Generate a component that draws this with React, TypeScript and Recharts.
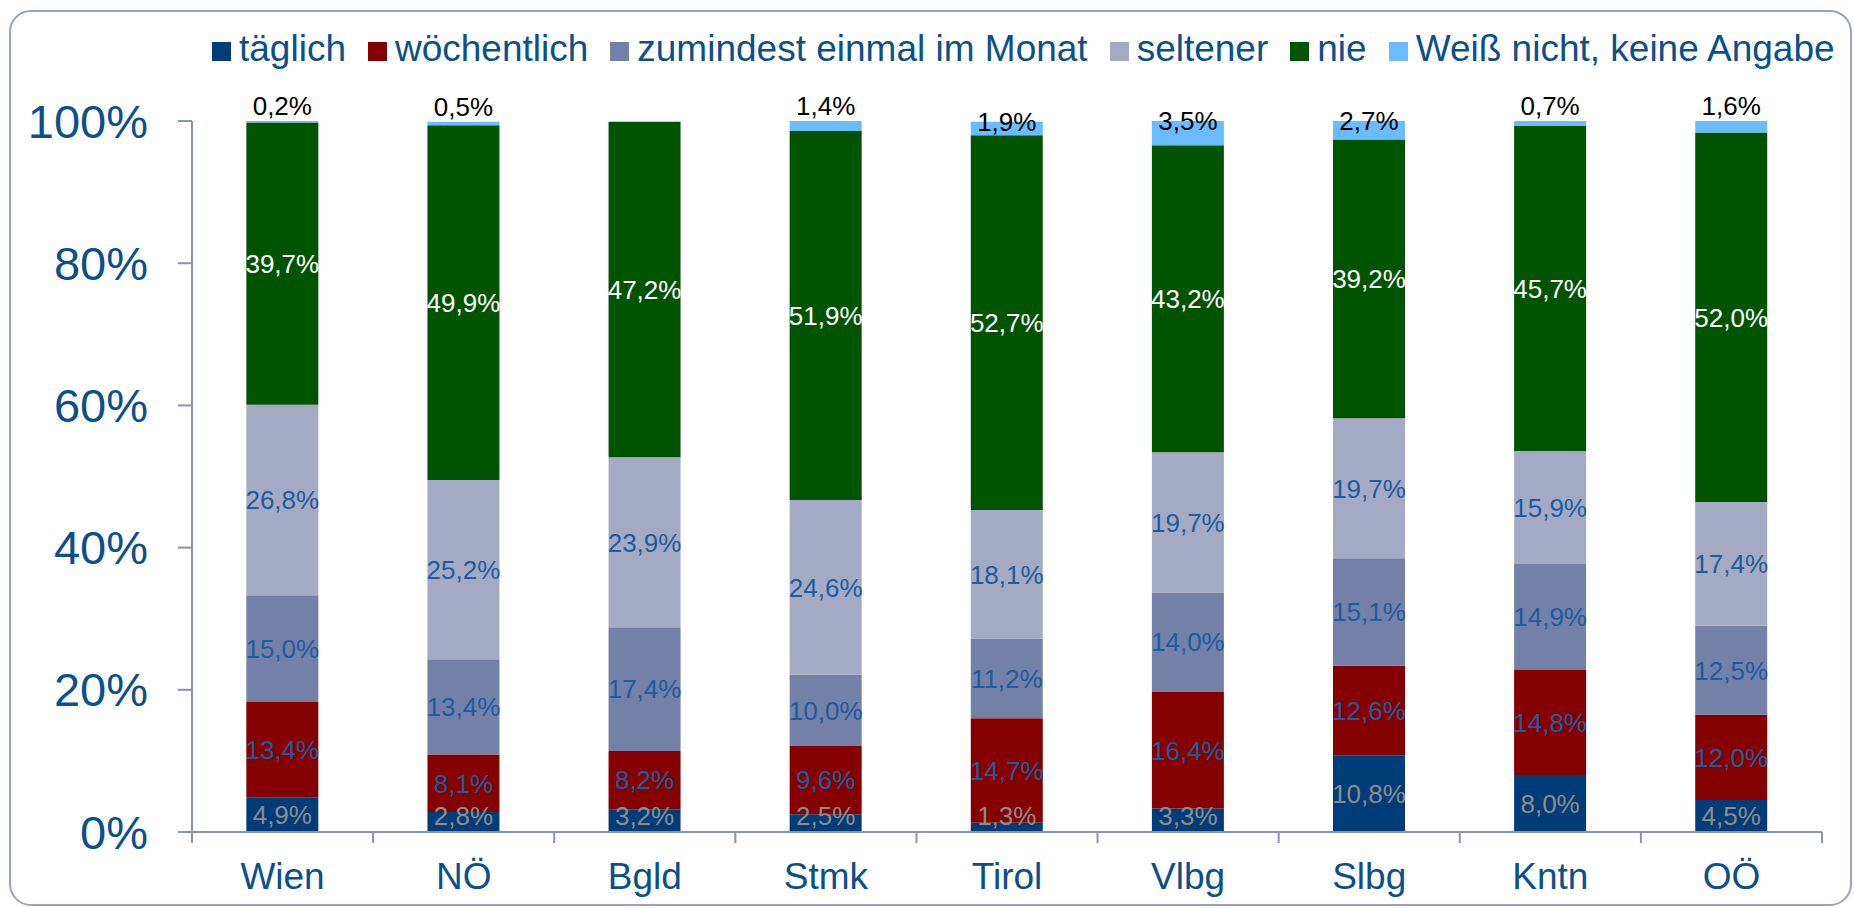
import React from 'react';
import { BarChart, Bar, XAxis, YAxis, Legend, LabelList } from 'recharts';

const categories = ['Wien', 'NÖ', 'Bgld', 'Stmk', 'Tirol', 'Vlbg', 'Slbg', 'Kntn', 'OÖ'];
const taeglich = [4.9, 2.8, 3.2, 2.5, 1.3, 3.3, 10.8, 8.0, 4.5];
const woechentlich = [13.4, 8.1, 8.2, 9.6, 14.7, 16.4, 12.6, 14.8, 12.0];
const monatlich = [15.0, 13.4, 17.4, 10.0, 11.2, 14.0, 15.1, 14.9, 12.5];
const seltener = [26.8, 25.2, 23.9, 24.6, 18.1, 19.7, 19.7, 15.9, 17.4];
const nie = [39.7, 49.9, 47.2, 51.9, 52.7, 43.2, 39.2, 45.7, 52.0];
const weissNicht = [0.2, 0.5, 0, 1.4, 1.9, 3.5, 2.7, 0.7, 1.6];
const yTicks = [0, 20, 40, 60, 80, 100];

const seriesKeys = ['t', 'w', 'm', 's', 'n', 'x'];
const seriesNames = [
  'täglich',
  'wöchentlich',
  'zumindest einmal im Monat',
  'seltener',
  'nie',
  'Weiß nicht, keine Angabe',
];
const seriesColors = ['#003C78', '#850000', '#7380A8', '#A4AAC4', '#005400', '#6BBCFF'];

const data = categories.map((name, i) => ({
  name,
  t: taeglich[i],
  w: woechentlich[i],
  m: monatlich[i],
  s: seltener[i],
  n: nie[i],
  x: weissNicht[i],
}));

const FONT = '"Liberation Sans", Arial, sans-serif';
const TEXT_BLUE = '#0B4F8B';
const AXIS = '#8A94B0';
const LABEL_SIZE = 26;

const fmt = (v: number) => v.toFixed(1).replace('.', ',') + '%';

const makeCenterLabel = (color: string) => (props: any) => {
  const { x, y, width, height, value } = props;
  if (!value) return null;
  const top = Math.min(y, y + height);
  const h = Math.abs(height);
  let cy = top + h / 2;
  cy = Math.min(cy, top + h - 16.5);
  return (
    <text
      x={x + width / 2}
      y={cy + 9.3}
      textAnchor="middle"
      fill={color}
      fontSize={LABEL_SIZE}
      fontFamily={FONT}
    >
      {fmt(Number(value))}
    </text>
  );
};

const topLabel = (props: any) => {
  const { x, y, width, height, value } = props;
  if (!value) return null;
  const top = Math.min(y, y + height);
  const baseline = Number(value) >= 1.8 ? top + 9 : top - 6;
  return (
    <text
      x={x + width / 2}
      y={baseline}
      textAnchor="middle"
      fill="#000000"
      fontSize={LABEL_SIZE}
      fontFamily={FONT}
    >
      {fmt(Number(value))}
    </text>
  );
};

const labelRenderers = [
  makeCenterLabel('#8C8C8C'),
  makeCenterLabel('#1D5C9E'),
  makeCenterLabel('#1D5C9E'),
  makeCenterLabel('#1D5C9E'),
  makeCenterLabel('#FFFFFF'),
  topLabel,
];

const XTick = (props: any) => {
  const { x, y, payload, index, visibleTicksCount } = props;
  const off = payload && payload.offset != null ? payload.offset : 90.5;
  const isLast = index === (visibleTicksCount ?? categories.length) - 1;
  return (
    <g>
      <line x1={x - off} x2={x - off} y1={y} y2={y + 11} stroke={AXIS} strokeWidth={2} />
      {isLast && <line x1={x + off} x2={x + off} y1={y} y2={y + 11} stroke={AXIS} strokeWidth={2} />}
      <text
        x={x}
        y={y + 31}
        dy="0.71em"
        textAnchor="middle"
        fill={TEXT_BLUE}
        fontSize={37}
        fontFamily={FONT}
      >
        {payload.value}
      </text>
    </g>
  );
};

const renderLegend = () => (
  <div
    style={{
      paddingLeft: 212,
      fontFamily: FONT,
      fontSize: 37,
      lineHeight: '44px',
      color: TEXT_BLUE,
      whiteSpace: 'nowrap',
      textAlign: 'left',
    }}
  >
    {seriesNames.map((n, i) => (
      <span key={n} style={{ marginRight: i < seriesNames.length - 1 ? 22 : 0 }}>
        <span
          style={{
            display: 'inline-block',
            width: 19,
            height: 19,
            background: seriesColors[i],
            marginRight: 8,
          }}
        />
        {n}
      </span>
    ))}
  </div>
);

export default function App() {
  return (
    <div style={{ position: 'absolute', left: 0, top: 0, width: 1854, height: 908, background: '#fff' }}>
      <BarChart
        width={1854}
        height={908}
        data={data}
        margin={{ top: 121, right: 32, left: 0, bottom: 0 }}
        barCategoryGap="30%"
      >
        <XAxis
          dataKey="name"
          interval={0}
          tickLine={false}
          tickSize={0}
          tickMargin={0}
          height={76}
          axisLine={{ stroke: AXIS, strokeWidth: 2 }}
          tick={<XTick />}
        />
        <YAxis
          domain={[0, 100]}
          ticks={yTicks}
          allowDataOverflow
          width={192}
          tickSize={14}
          tickMargin={30}
          axisLine={{ stroke: AXIS, strokeWidth: 2 }}
          tickLine={{ stroke: AXIS, strokeWidth: 2 }}
          tick={{ fill: TEXT_BLUE, fontSize: 47, fontFamily: FONT }}
          tickFormatter={(v: number) => `${v}%`}
        />
        <Legend
          verticalAlign="middle"
          align="center"
          layout="horizontal"
          content={renderLegend}
          wrapperStyle={{ top: 27, left: 0, width: 1854, height: 44 }}
        />
        {seriesKeys.map((k, i) => (
          <Bar
            key={k}
            dataKey={k}
            name={seriesNames[i]}
            stackId="a"
            fill={seriesColors[i]}
            isAnimationActive={false}
          >
            <LabelList dataKey={k} content={labelRenderers[i]} />
          </Bar>
        ))}
      </BarChart>
      <div
        style={{
          position: 'absolute',
          left: 9,
          top: 10,
          width: 1843,
          height: 896,
          boxSizing: 'border-box',
          border: '2px solid #98A2C6',
          borderRadius: 22,
          pointerEvents: 'none',
        }}
      />
    </div>
  );
}
